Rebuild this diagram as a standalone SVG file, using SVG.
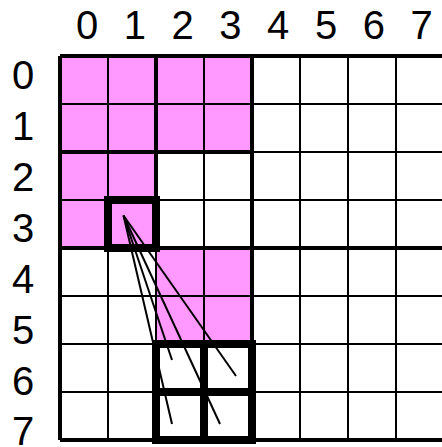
<svg xmlns="http://www.w3.org/2000/svg" width="442" height="447" viewBox="0 0 442 447">
<style>
.lbl{font-family:"Liberation Sans",Arial,sans-serif;font-size:40px;fill:#000;text-anchor:middle}
.pink{fill:#ff99ff;stroke:none}
.thin{stroke:#000;stroke-width:2;fill:none}
.thick{stroke:#000;stroke-width:4;fill:none}
.box{stroke:#000;stroke-width:8;fill:none}
.conn{stroke:#000;stroke-width:2;fill:none}
</style>
<rect width="442" height="447" fill="#fff"/>
<g id="region">
<rect class="pink" x="60" y="56" width="192" height="96"/>
<rect class="pink" x="60" y="152" width="96" height="96"/>
<rect class="pink" x="156" y="248" width="96" height="96"/>
</g>
<g id="grid">
<path class="thin" d="M108 56V440M156 248V440M204 56V440M300 56V440M348 56V440M396 56V440M60 104H444M252 152H444M60 200H444M60 296H444M60 344H444M60 392H444"/>
<path class="thick" d="M60 56V440M156 56V248M252 56V440M444 56V440M60 56H444M60 152H252M60 248H444M60 440H444"/>
</g>
<g id="col-labels">
<text class="lbl" x="87" y="39">0</text>
<text class="lbl" x="134.8" y="39">1</text>
<text class="lbl" x="182.6" y="39">2</text>
<text class="lbl" x="230.4" y="39">3</text>
<text class="lbl" x="278.2" y="39">4</text>
<text class="lbl" x="326" y="39">5</text>
<text class="lbl" x="373.8" y="39">6</text>
<text class="lbl" x="421.6" y="39">7</text>
</g>
<g id="row-labels">
<text class="lbl" x="23" y="89">0</text>
<text class="lbl" x="23" y="140">1</text>
<text class="lbl" x="23" y="191">2</text>
<text class="lbl" x="23" y="242">3</text>
<text class="lbl" x="23" y="293">4</text>
<text class="lbl" x="23" y="344">5</text>
<text class="lbl" x="23" y="395">6</text>
<text class="lbl" x="23" y="445">7</text>
</g>
<g id="connectors">
<line class="conn" x1="123.5" y1="215.5" x2="172" y2="360"/>
<line class="conn" x1="123.5" y1="215.5" x2="236" y2="376"/>
<line class="conn" x1="123.5" y1="215.5" x2="172" y2="424"/>
<line class="conn" x1="123.5" y1="215.5" x2="220" y2="424"/>
</g>
<g id="source-cell">
<rect class="box" x="108" y="200" width="48" height="48"/>
</g>
<g id="target-cells">
<rect class="box" x="156" y="344" width="48" height="48"/>
<rect class="box" x="204" y="344" width="48" height="48"/>
<rect class="box" x="156" y="392" width="48" height="48"/>
<rect class="box" x="204" y="392" width="48" height="48"/>
</g>
</svg>
